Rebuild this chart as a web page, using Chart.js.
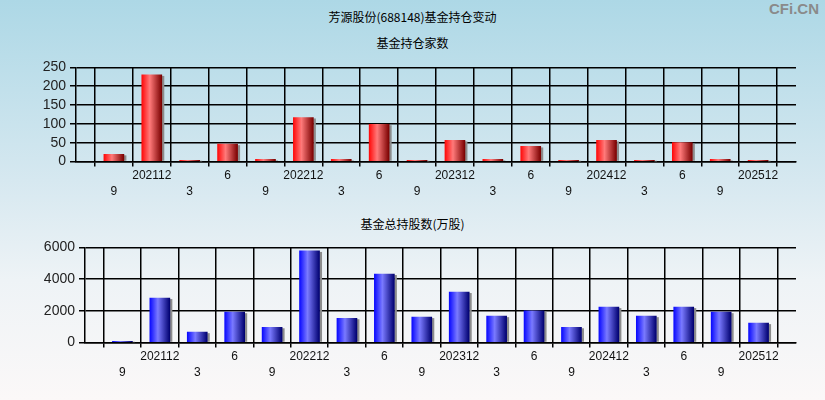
<!DOCTYPE html>
<html><head><meta charset="utf-8">
<script src="https://cdn.jsdelivr.net/npm/chart.js@4/dist/chart.umd.min.js"></script>
<style>
html,body{margin:0;padding:0;}
body{width:825px;height:400px;position:relative;overflow:hidden;background:linear-gradient(to bottom,#add8e6 0%,#d6e8f0 45%,#eef3f6 70%,#fbf8f8 100%);font-family:"Noto Sans CJK SC",sans-serif;}
.t{position:absolute;left:0;width:825px;text-align:center;font-size:12px;color:#000;}
#wm{position:absolute;right:6px;top:0px;font-family:"Liberation Sans",Arial,sans-serif;font-weight:bold;font-size:15px;color:#8a8a8a;}
canvas{position:absolute;left:0;}
</style></head><body>
<div class="t" style="top:8px">芳源股份(688148)基金持仓变动</div>
<div class="t" style="top:34px">基金持仓家数</div>
<div class="t" style="top:215px">基金总持股数(万股)</div>
<div id="wm">CFi.CN</div>
<div style="position:absolute;left:0;top:55px;width:825px;height:150px"><canvas id="c1"></canvas></div>
<div style="position:absolute;left:0;top:230px;width:825px;height:170px"><canvas id="c2"></canvas></div>
<script>
const categories = ['', '9', '202112', '3', '6', '9', '202212', '3', '6', '9', '202312', '3', '6', '9', '202412', '3', '6', '9', '202512', ''];
const fundCount = [null, 19, 230, 3, 46, 6, 117, 6, 99, 3, 56, 6, 40, 3, 56, 3, 50, 6, 3, null];
const fundShares = [null, 80, 2800, 650, 1910, 960, 5770, 1530, 4315, 1600, 3180, 1660, 2000, 960, 2230, 1660, 2230, 1910, 1220, null];
const countTicks = [0, 50, 100, 150, 200, 250];
const shareTicks = [0, 2000, 4000, 6000];

const BAR_W = 20;
function grad(colors){
  return function(ctx){
    const chart = ctx.chart;
    const xs = chart.scales && chart.scales.x;
    if(!xs || !xs.width || ctx.dataIndex === undefined) return colors[0];
    const px = xs.getPixelForValue(ctx.dataIndex);
    if(!isFinite(px)) return colors[0];
    const g = chart.ctx.createLinearGradient(px - BAR_W/2, 0, px + BAR_W/2, 0);
    g.addColorStop(0, colors[0]);
    g.addColorStop(0.4, colors[1]);
    g.addColorStop(1, colors[2]);
    return g;
  };
}
const shadowPlugin = {
  id:'shadow',
  beforeDatasetsDraw(chart){
    const c = chart.ctx;
    const meta = chart.getDatasetMeta(0);
    c.save();
    c.fillStyle = '#8c8c8c';
    meta.data.forEach((el,i)=>{
      if(chart.data.datasets[0].data[i] == null) return;
      const p = el.getProps(['x','y','base','width'], true);
      c.fillRect(p.x + p.width/2, p.y + 1, 2.5, p.base - p.y - 1);
    });
    c.restore();
  }
};
function labelLines(i){
  const l = categories[i];
  if(l === '') return '';
  return (i % 2 === 0) ? [l, ''] : ['', l];
}
function makeChart(id, data, ticks, max, colors, yW, xH, padTop){
  return new Chart(document.getElementById(id), {
    type:'bar',
    data:{labels:categories, datasets:[{data:data, backgroundColor:grad(colors), barThickness:BAR_W, borderWidth:0}]},
    plugins:[shadowPlugin],
    options:{
      responsive:true, maintainAspectRatio:false, animation:false,
      layout:{padding:{top:padTop, right:29, left:0, bottom:0}},
      plugins:{legend:{display:false}, tooltip:{enabled:false}},
      scales:{
        x:{
          offset:false,
          grid:{color:'#000', lineWidth:1.5, tickLength:5, drawTicks:true},
          border:{color:'#000', width:1.5},
          ticks:{autoSkip:false, maxRotation:0, minRotation:0, padding:1, color:'#111',
            font:{family:'"Liberation Sans", Arial, sans-serif', size:12, lineHeight:'16px'},
            callback:(v,i)=>labelLines(i)},
          afterFit:(s)=>{s.height = xH;}
        },
        y:{
          min:0, max:max,
          afterBuildTicks:(s)=>{s.ticks = ticks.map(v=>({value:v}));},
          grid:{color:'#000', lineWidth:1.5, tickLength:6},
          border:{color:'#000', width:1.5},
          ticks:{autoSkip:false, padding:4, color:'#222', callback:(v)=>String(v),
            font:{family:'"Liberation Sans", Arial, sans-serif', size:14}},
          afterFit:(s)=>{s.width = yW;}
        }
      }
    }
  });
}
makeChart('c1', fundCount, countTicks, 250, ['#ff0a0a','#ff7a7a','#7a0000'], 76, 43.5, 11.7);
makeChart('c2', fundShares, shareTicks, 6000, ['#0a0aff','#7a7aff','#000070'], 85, 57.5, 17.3);
</script>
</body></html>
